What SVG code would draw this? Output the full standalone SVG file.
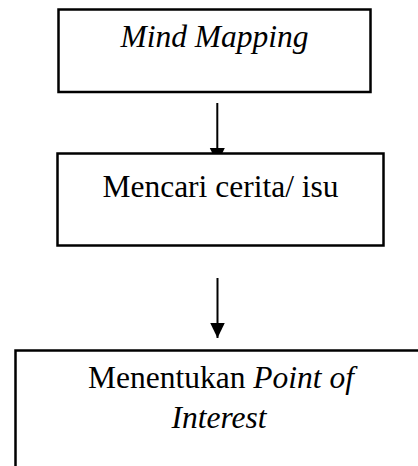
<svg xmlns="http://www.w3.org/2000/svg" width="418" height="466" viewBox="0 0 418 466">
<style>
.box{fill:#fff;stroke:#000;stroke-width:2.5}
text{font-family:'Liberation Serif', 'Times New Roman', serif;font-size:31.5px;fill:#000;text-anchor:middle}
.i{font-style:italic}
.c{stroke:#000;stroke-width:2;fill:none}
</style>
<defs>
<marker id="ah" markerUnits="userSpaceOnUse" markerWidth="16" markerHeight="16" refX="15.5" refY="7.5" orient="auto">
<path d="M0,0 L15.5,7.5 L0,15 Z" fill="#000"/>
</marker>
</defs>
<g id="connectors">
<line class="c" x1="217.3" y1="103" x2="217.3" y2="163.5" marker-end="url(#ah)"/>
<line class="c" x1="217.5" y1="278" x2="217.5" y2="338" marker-end="url(#ah)"/>
</g>
<g id="node-mind-mapping">
<rect class="box" x="58.5" y="9.5" width="312" height="82.5"/>
<text class="i" x="214.5" y="46.7">Mind Mapping</text>
</g>
<g id="node-mencari">
<rect class="box" x="57.5" y="153.5" width="326" height="92"/>
<text x="220.5" y="196.7">Mencari cerita/ isu</text>
</g>
<g id="node-menentukan">
<rect class="box" x="15.5" y="350.5" width="420" height="140"/>
<text x="221" y="388.3">Menentukan <tspan class="i">Point of</tspan></text>
<text class="i" x="219" y="428.3">Interest</text>
</g>
</svg>
